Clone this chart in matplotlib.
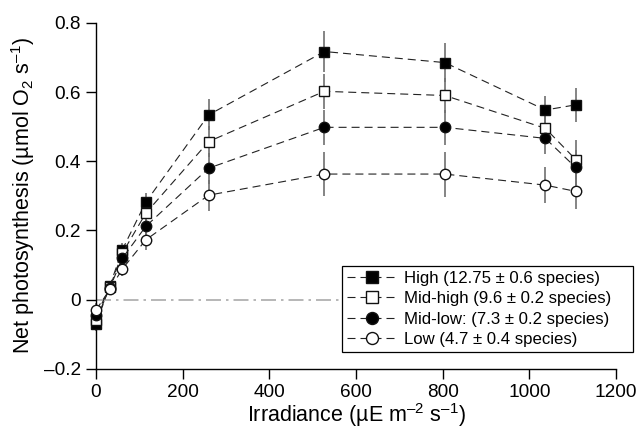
import matplotlib
matplotlib.use("Agg")
import matplotlib.pyplot as plt

plt.rcParams['font.family'] = ['Liberation Sans', 'DejaVu Sans']
plt.rcParams['mathtext.fontset'] = 'custom'
plt.rcParams['mathtext.rm'] = 'Liberation Sans'
plt.rcParams['mathtext.it'] = 'Liberation Sans:italic'
plt.rcParams['mathtext.default'] = 'regular'

irradiance = [0, 32, 61, 115, 260, 527, 805, 1037, 1107]

high = [-0.07, 0.040, 0.145, 0.282, 0.534, 0.717, 0.685, 0.548, 0.563]
mid_high = [-0.06, 0.036, 0.135, 0.250, 0.457, 0.602, 0.590, 0.495, 0.405]
mid_low = [-0.045, 0.035, 0.120, 0.212, 0.380, 0.498, 0.498, 0.466, 0.382]
low = [-0.030, 0.030, 0.089, 0.173, 0.302, 0.363, 0.363, 0.331, 0.313]

high_err = [0.02, 0.01, 0.02, 0.025, 0.045, 0.06, 0.056, 0.04, 0.05]
mid_high_err = [0.02, 0.01, 0.02, 0.025, 0.045, 0.05, 0.05, 0.045, 0.055]
mid_low_err = [0.02, 0.01, 0.02, 0.025, 0.045, 0.05, 0.05, 0.045, 0.05]
low_err = [0.02, 0.01, 0.02, 0.03, 0.045, 0.063, 0.065, 0.053, 0.05]

labels = ["High (12.75 \u00b1 0.6 species)",
          "Mid-high (9.6 \u00b1 0.2 species)",
          "Mid-low: (7.3 \u00b1 0.2 species)",
          "Low (4.7 \u00b1 0.4 species)"]

series = [(high, high_err, 's', 'black'),
          (mid_high, mid_high_err, 's', 'white'),
          (mid_low, mid_low_err, 'o', 'black'),
          (low, low_err, 'o', 'white')]

fig = plt.figure(figsize=(6.4, 4.3), dpi=100)
ax = fig.add_axes([0.15, 0.142, 0.8125, 0.805])

ax.plot([0, 1200], [0, 0], color='#aaaaaa', lw=1.2, ls='-.', dashes=(9, 3, 1.5, 3), zorder=1)

for (vals, errs, m, fc), lab in zip(series, labels):
    ax.errorbar(irradiance, vals, yerr=errs, fmt='none', ecolor='#707070',
                elinewidth=1.2, capsize=0, zorder=2, clip_on=False)
for (vals, errs, m, fc), lab in zip(series, labels):
    ax.plot(irradiance, vals, ls='--', dashes=(7.2, 4.5), color='#222222', lw=0.8,
            marker=m, markersize=7.5, markerfacecolor=fc,
            markeredgecolor='#111111', markeredgewidth=1.0, label=lab,
            zorder=3, clip_on=False)

ax.set_xlim(0, 1200)
ax.set_ylim(-0.2, 0.8)
ax.set_xticks([0, 200, 400, 600, 800, 1000, 1200])
ax.set_yticks([-0.2, 0, 0.2, 0.4, 0.6, 0.8])
ax.set_yticklabels(['\u20130.2', '0', '0.2', '0.4', '0.6', '0.8'])
for s in ['top', 'right']:
    ax.spines[s].set_visible(False)
for s in ['left', 'bottom']:
    ax.spines[s].set_linewidth(1.0)
ax.tick_params(direction='out', length=7, width=1.0, labelsize=13.7, pad=4)

ax.set_xlabel('Irradiance (\u00b5E m$^{\u20132}$ s$^{\u20131}$)', fontsize=15.5, labelpad=0)
ax.set_ylabel('Net photosynthesis (\u00b5mol O$_2$ s$^{\u20131}$)', fontsize=15.5, labelpad=5)

leg = ax.legend(loc='upper left',
                bbox_to_anchor=(342 / 640, 1 - 358 / 430, 291 / 640, 92.5 / 430),
                bbox_transform=fig.transFigure, borderaxespad=0, mode='expand',
                fontsize=12.1, frameon=True, fancybox=False, edgecolor='black',
                handlelength=3.0, handletextpad=0.37, borderpad=0.3,
                labelspacing=0.33, markerscale=1.15, framealpha=1)
leg.get_frame().set_linewidth(0.9)

fig.savefig('out.png', dpi=100)
